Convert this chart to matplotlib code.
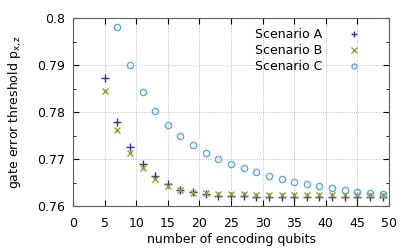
import numpy as np
import matplotlib
matplotlib.use("Agg")
import matplotlib.pyplot as plt
from matplotlib.ticker import MultipleLocator

# number of encoding qubits
n_a = [5, 7, 9, 11, 13, 15, 17, 19, 21, 23, 25, 27, 29, 31, 33, 35, 37, 39, 41, 43, 45, 47, 49]
n_c = [7, 9, 11, 13, 15, 17, 19, 21, 23, 25, 27, 29, 31, 33, 35, 37, 39, 41, 43, 45, 47, 49]

# thresholds
p_a = [0.7873, 0.7779, 0.7726, 0.7689, 0.7664, 0.7647, 0.7635, 0.7629, 0.7625, 0.7622,
       0.7621, 0.7621, 0.7620, 0.7620, 0.7620, 0.7620, 0.7620, 0.7620, 0.7620, 0.7620,
       0.7620, 0.7620, 0.7620]
p_b = [0.7844, 0.7762, 0.7713, 0.7680, 0.7657, 0.7643, 0.7634, 0.7628, 0.7627, 0.7626,
       0.7625, 0.7625, 0.7624, 0.7624, 0.7624, 0.7624, 0.7623, 0.7623, 0.7623, 0.7623,
       0.7623, 0.7623, 0.7623]
p_c = [0.7981, 0.7899, 0.7843, 0.7803, 0.7772, 0.7748, 0.7729, 0.7713, 0.7701, 0.7689,
       0.7680, 0.7672, 0.7664, 0.7657, 0.7652, 0.7647, 0.7643, 0.7638, 0.7635, 0.7630,
       0.7628, 0.7625]

fig = plt.figure(figsize=(4.15, 2.49), dpi=100)
ax = fig.add_axes([73/415, 1-206/249, (389-73)/415, (206-18)/249])

ax.plot(n_a, p_a, ls='none', marker='+', ms=6, mew=1.0, color='#3b2a9c', label='Scenario A')
ax.plot(n_a, p_b, ls='none', marker='x', ms=5, mew=1.0, color='#9c9a2e', label='Scenario B')
ax.plot(n_c, p_c, ls='none', marker='o', ms=4.5, mew=1.0, mfc='none', color='#5aaadc', label='Scenario C')

ax.set_xlim(0, 50)
ax.set_ylim(0.76, 0.8)
ax.xaxis.set_major_locator(MultipleLocator(5))
ax.yaxis.set_minor_locator(MultipleLocator(0.005))
ax.set_yticks([0.76, 0.77, 0.78, 0.79, 0.8])
ax.set_yticklabels(['0.76', '0.77', '0.78', '0.79', '0.8'])
ax.tick_params(which='both', direction='in', top=True, right=True, labelsize=9)
ax.tick_params(axis='x', pad=8)
ax.tick_params(axis='y', pad=6)
ax.tick_params(which='major', length=4)
ax.tick_params(which='minor', length=2.5)
ax.grid(True, which='major', ls=':', color='#aaaaaa', lw=0.6)
for s in ax.spines.values():
    s.set_color('#606060')
    s.set_linewidth(0.8)

ax.set_xlabel('number of encoding qubits', fontsize=9, labelpad=2)
ax.set_ylabel('gate error threshold p$_{\\mathregular{x,z}}$', fontsize=9, labelpad=9)

ax.legend(loc='upper right', bbox_to_anchor=(0.94, 1.0), frameon=False, markerfirst=False,
          fontsize=9, handlelength=1.0, handletextpad=2.0, labelspacing=0.25, borderpad=0.3,
          markerscale=0.8)

fig.savefig('out.png', dpi=100)
